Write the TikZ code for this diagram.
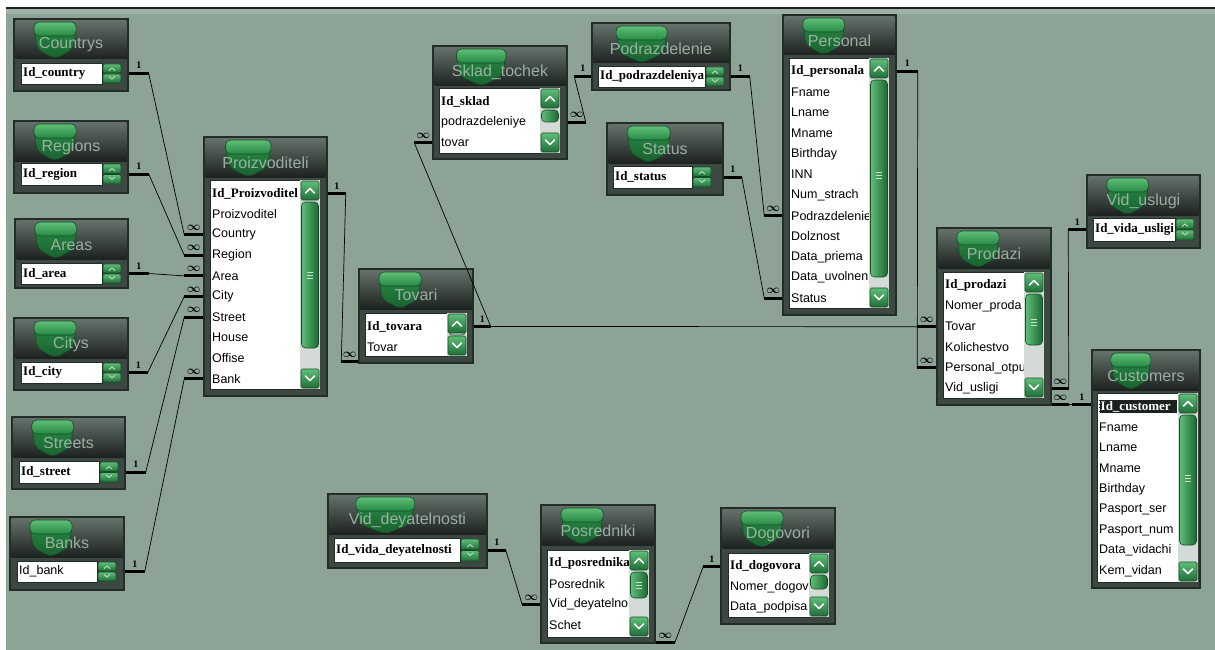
\documentclass[tikz,border=0pt]{standalone}
\usepackage{fontspec}
\setmainfont{Liberation Sans}
\newfontfamily\erserif{Liberation Serif}
\usepackage{tikz}
\usetikzlibrary{fit}
\definecolor{erback}{RGB}{140,163,150}
\definecolor{erframe}{RGB}{36,44,40}
\definecolor{erheadtop}{RGB}{100,112,106}
\definecolor{erdark}{RGB}{28,34,31}
\definecolor{erbody}{RGB}{62,72,67}
\definecolor{ergreen}{RGB}{38,138,68}
\definecolor{erlight}{RGB}{96,190,120}
\definecolor{erdeep}{RGB}{20,78,38}
\definecolor{ertext}{RGB}{166,186,174}
\definecolor{ertrack}{RGB}{212,218,214}
\tikzset{
  ertable/.style={draw=erframe,line width=1.5pt,fill=erbody,inner sep=0pt},
  erhead/.style={top color=erheadtop,bottom color=erdark},
  ertab/.style={top color=erlight,bottom color=ergreen,draw=erdeep,
                line width=.6pt,rounded corners=5pt},
  ershield/.style={top color=ergreen,bottom color=ergreen!70!black,
                   draw=erdeep,line width=.6pt,rounded corners=6pt},
  ertitle/.style={text=ertext,text opacity=.9,inner sep=0pt,
                  font=\fontsize{16}{17}\selectfont},
  erlist/.style={fill=white,draw=erframe,line width=.6pt},
  erfield/.style={anchor=west,inner sep=0pt,font=\fontsize{12.5}{13}\selectfont},
  erkey/.style={erfield,font=\erserif\bfseries\fontsize{13}{14}\selectfont},
  erselect/.style={erkey,text=white,fill=erdark,draw=white,densely dotted,
                   inner sep=1.5pt,text width=75pt},
  erbutton/.style={top color=erlight,bottom color=ergreen!80!black,draw=erdeep,
                   line width=.6pt,rounded corners=1.5pt},
  erthumb/.style={left color=erlight,right color=ergreen!75!black,draw=erdeep,
                  line width=.6pt,rounded corners=4pt},
  erchevron/.style={white,line width=1.6pt,line cap=round,line join=round},
  ergrip/.style={white!75!ergreen,line width=.8pt},
  erstub/.style={line width=3pt},
  erlink/.style={line width=.7pt},
  erone/.style={midway,above=3pt,inner sep=0pt,
                font=\erserif\bfseries\fontsize{10}{10}\selectfont},
  ermany/.style={midway,above=3pt,inner sep=0pt,
                 font=\fontsize{12}{12}\selectfont\boldmath}
}
% table frame, header and title: name, x1, y1, x2, y2, title
\newcommand{\ertablebox}[6]{%
  \node[ertable,fit={(#2,#3) (#4,#5)}] (#1) {};
  \fill[erhead] (#2+1.5,#3+1.5) rectangle (#4-1.5,#3+40);
  \path[ershield] ({#2+.175*(#4-#2)},#3+6) -- ({#2+.545*(#4-#2)},#3+6)
    -- ({#2+.52*(#4-#2)},#3+30) -- ({#2+.36*(#4-#2)},#3+40)
    -- ({#2+.2*(#4-#2)},#3+30) -- cycle;
  \path[ertab] ({#2+.175*(#4-#2)},#3+3) rectangle ({#2+.545*(#4-#2)},#3+17);
  \node[ertitle] (#1-title) at ({(#2+#4)/2},#3+26) {#6};
}
% full scroll bar: x, y1, y2, lower end of thumb
\newcommand{\erscroll}[4]{%
  \fill[ertrack] (#1,#2) rectangle (#1+20,#3);
  \path[erthumb] (#1+1.5,#2+22) rectangle (#1+18.5,#4);
  \path[erbutton] (#1+1,#2+1) rectangle (#1+19,#2+20);
  \draw[erchevron] (#1+5.5,#2+13) -- (#1+10,#2+8.5) -- (#1+14.5,#2+13);
  \path[erbutton] (#1+1,#3-20) rectangle (#1+19,#3-1);
  \draw[erchevron] (#1+5.5,#3-13) -- (#1+10,#3-8.5) -- (#1+14.5,#3-13);
}
\newcommand{\ergripper}[2]{% x, y
  \foreach \k in {-3,0,3}
    \draw[ergrip] (#1+7,#2+\k) -- (#1+13,#2+\k);
}
% two small buttons of a one-row list: x, y1, y2
\newcommand{\erspin}[3]{%
  \path[erbutton] (#1+1,#2+1) rectangle (#1+19,{(#2+#3)/2-.5});
  \path[erbutton] (#1+1,{(#2+#3)/2+.5}) rectangle (#1+19,#3-1);
  \draw[ergrip] (#1+7,{(#2+#3)/2-3}) -- (#1+10,{(#2+#3)/2-5.5}) -- (#1+13,{(#2+#3)/2-3});
  \draw[ergrip] (#1+7,{(#2+#3)/2+3}) -- (#1+10,{(#2+#3)/2+5.5}) -- (#1+13,{(#2+#3)/2+3});
}
% one-row list: name, x1, y1, x2, y2, style, field
\newcommand{\ersingle}[7]{%
  \fill[erlist] (#2,#3) rectangle (#4,#5);
  \begin{scope}
    \clip (#2,#3) rectangle (#4,#5);
    \node[#6] (#1-1) at (#2+2,{(#3+#5)/2}) {#7};
  \end{scope}
  \erspin{#4}{#3}{#5}
}
% field list: name, x1, y1, x2, y2, key style, key field, other fields
\newcommand{\erfields}[8]{%
  \fill[erlist] (#2,#3) rectangle (#4,#5);
  \begin{scope}
    \clip (#2,#3) rectangle (#4,#5);
    \node[#6] (#1-1) at (#2+2,#3+13.5) {#7};
    \foreach \f [count=\i from 2] in {#8}
      \node[erfield] (#1-\i) at (#2+2,{#3+13.5+20.6*(\i-1)}) {\f};
  \end{scope}
}
\begin{document}
\begin{tikzpicture}[x=1pt,y=-1pt]
  \useasboundingbox (0,0) rectangle (1215,650);
  \fill[white] (0,0) rectangle (1215,650);
  \fill[erback] (6,8) rectangle (1215,650);
  \fill[erback!85!white] (6,9) rectangle (1215,14);
  \draw[erdark,line width=1.5pt] (6,8) -- (1215,8);

  \ertablebox{countrys}{14}{19}{128}{91}{Countrys}
  \ersingle{countrys}{21}{63}{102}{84}{erkey}{Id\_country}
  \ertablebox{regions}{14}{121}{128}{193}{Regions}
  \ersingle{regions}{21}{163}{102}{185}{erkey}{Id\_region}
  \ertablebox{areas}{15}{219}{128}{288}{Areas}
  \ersingle{areas}{21}{263}{102}{284}{erkey}{Id\_area}
  \ertablebox{citys}{14}{318}{128}{390}{Citys}
  \ersingle{citys}{21}{362}{102}{383}{erkey}{Id\_city}
  \ertablebox{streets}{12}{417}{125}{489}{Streets}
  \ersingle{streets}{19}{461}{99}{483}{erkey}{Id\_street}
  \ertablebox{banks}{10}{517}{124}{590}{Banks}
  \ersingle{banks}{17}{561}{97}{582}{erfield}{Id\_bank}

  \ertablebox{proizv}{204}{137}{327}{396}{Proizvoditeli}
  \erfields{proizv}{210}{180}{300}{389}{erkey}{Id\_Proizvoditel}
    {Proizvoditel,Country,Region,Area,City,Street,House,Offise,Bank}
  \erscroll{300}{180}{389}{348}
  \ergripper{300}{275}

  \ertablebox{tovari}{359}{269}{473}{363}{Tovari}
  \erfields{tovari}{365}{313}{447}{356}{erkey}{Id\_tovara}{Tovar}
  \erscroll{447}{313}{356}{335}

  \ertablebox{sklad}{433}{46}{567}{159}{Sklad\_tochek}
  \erfields{sklad}{439}{88}{540}{153}{erkey}{Id\_sklad}{podrazdeleniye,tovar}
  \erscroll{540}{88}{153}{122}

  \ertablebox{podr}{592}{23}{730}{90}{Podrazdelenie}
  \ersingle{podr}{598}{66}{705}{87}{erkey}{Id\_podrazdeleniya}

  \ertablebox{status}{607}{123}{723}{195}{Status}
  \ersingle{status}{613}{166}{692}{188}{erkey}{Id\_status}

  \ertablebox{personal}{783}{15}{896}{315}{Personal}
  \erfields{personal}{789}{58}{869}{308}{erkey}{Id\_personala}
    {Fname,Lname,Mname,Birthday,INN,Num\_strach,Podrazdelenie,Dolznost,
     Data\_priema,Data\_uvolnen,Status}
  \erscroll{869}{58}{308}{277}
  \ergripper{869}{175}

  \ertablebox{prodazi}{937}{228}{1051}{405}{Prodazi}
  \erfields{prodazi}{943}{272}{1024}{398}{erkey}{Id\_prodazi}
    {Nomer\_proda,Tovar,Kolichestvo,Personal\_otpu,Vid\_usligi}
  \erscroll{1024}{272}{398}{345}
  \ergripper{1024}{322}

  \ertablebox{viduslugi}{1087}{175}{1200}{248}{Vid\_uslugi}
  \ersingle{viduslugi}{1093}{218}{1175}{241}{erkey}{Id\_vida\_usligi}

  \ertablebox{customers}{1092}{350}{1200}{588}{Customers}
  \erfields{customers}{1097}{393}{1178}{582}{erselect}{Id\_customer}
    {Fname,Lname,Mname,Birthday,Pasport\_ser,Pasport\_num,Data\_vidachi,Kem\_vidan}
  \erscroll{1178}{393}{582}{545}
  \ergripper{1178}{478}

  \ertablebox{viddey}{328}{494}{487}{568}{Vid\_deyatelnosti}
  \ersingle{viddey}{334}{538}{460}{562}{erkey}{Id\_vida\_deyatelnosti}

  \ertablebox{posred}{541}{505}{655}{643}{Posredniki}
  \erfields{posred}{547}{550}{629}{637}{erkey}{Id\_posrednika}
    {Posrednik,Vid\_deyatelno,Schet}
  \erscroll{629}{550}{637}{598}
  \ergripper{629}{585}

  \ertablebox{dogovori}{721}{508}{835}{624}{Dogovori}
  \erfields{dogovori}{728}{553}{809}{617}{erkey}{Id\_dogovora}
    {Nomer\_dogov,Data\_podpisa}
  \erscroll{809}{553}{617}{589}

  % one side
  \draw[erstub] (countrys.east |- countrys-1) -- ++(20,0) coordinate (cnt-id) node[erone] {1};
  \draw[erstub] (regions.east |- regions-1) -- ++(20,0) coordinate (reg-id) node[erone] {1};
  \draw[erstub] (areas.east |- areas-1) -- ++(20,0) coordinate (are-id) node[erone] {1};
  \draw[erstub] (citys.east |- citys-1) -- ++(19,0) coordinate (cit-id) node[erone] {1};
  \draw[erstub] (streets.east |- streets-1) -- ++(20,0) coordinate (str-id) node[erone] {1};
  \draw[erstub] (banks.east |- banks-1) -- ++(20,0) coordinate (ban-id) node[erone] {1};
  \draw[erstub] (proizv.east |- proizv-1) -- ++(18,0) coordinate (prz-id) node[erone] {1};
  \draw[erstub] (tovari.east |- tovari-1) -- ++(17,0) coordinate (tov-id) node[erone] {1};
  \draw[erstub] (podr.west |- podr-1) -- ++(-17,0) coordinate (pod-l) node[erone] {1};
  \draw[erstub] (podr.east |- podr-1) -- ++(19,0) coordinate (pod-r) node[erone] {1};
  \draw[erstub] (status.east |- status-1) -- ++(18,0) coordinate (sta-id) node[erone] {1};
  \draw[erstub] (personal.east |- personal-1) -- ++(21,0) coordinate (per-id) node[erone] {1};
  \draw[erstub] (viduslugi.west |- viduslugi-1) -- ++(-18,0) coordinate (vus-id) node[erone] {1};
  \draw[erstub] (viddey.east |- viddey-1) -- ++(18,0) coordinate (vdy-id) node[erone] {1};
  \draw[erstub] (dogovori.west |- dogovori-1) -- ++(-17,0) coordinate (dog-id) node[erone] {1};

  % many side
  \draw[erstub] (proizv.west |- proizv-3) -- ++(-19,0) coordinate (prz-cnt) node[ermany] {$\infty$};
  \draw[erstub] (proizv.west |- proizv-4) -- ++(-19,0) coordinate (prz-reg) node[ermany] {$\infty$};
  \draw[erstub] (proizv.west |- proizv-5) -- ++(-19,0) coordinate (prz-are) node[ermany] {$\infty$};
  \draw[erstub] (proizv.west |- proizv-6) -- ++(-19,0) coordinate (prz-cit) node[ermany] {$\infty$};
  \draw[erstub] (proizv.west |- proizv-7) -- ++(-19,0) coordinate (prz-str) node[ermany] {$\infty$};
  \draw[erstub] (proizv.west |- proizv-10) -- ++(-19,0) coordinate (prz-ban) node[ermany] {$\infty$};
  \draw[erstub] ([yshift=2pt]tovari.south west) -- ++(-17,0) coordinate (tov-prz) node[ermany] {$\infty$};
  \draw[erstub] (sklad.west |- sklad-3) -- ++(-18,0) coordinate (skl-tov) node[ermany] {$\infty$};
  \draw[erstub] (sklad.east |- sklad-2) -- ++(18,0) coordinate (skl-pod) node[ermany] {$\infty$};
  \draw[erstub] (prodazi.west |- prodazi-3) -- ++(-19,0) coordinate (prd-tov) node[ermany] {$\infty$};
  \draw[erstub] (personal.west |- personal-8) -- ++(-18,0) coordinate (per-pod) node[ermany] {$\infty$};
  \draw[erstub] (personal.west |- personal-12) -- ++(-18,0) coordinate (per-sta) node[ermany] {$\infty$};
  \draw[erstub] (prodazi.west |- prodazi-5) -- ++(-19,0) coordinate (prd-per) node[ermany] {$\infty$};
  \draw[erstub] (prodazi.east |- prodazi-6) -- ++(17,0) coordinate (prd-vus) node[ermany] {$\infty$};
  \draw[erstub] ([yshift=1pt]prodazi.south east) -- ++(17,0) coordinate (prd-cus) node[ermany] {$\infty$};
  \draw[erstub] (customers.west |- prd-cus) -- ++(-19,0) coordinate (cus-id) node[erone] {1};
  \draw[erstub] (posred.west |- posred-3) -- ++(-18,0) coordinate (pos-vdy) node[ermany] {$\infty$};
  \draw[erstub] ([yshift=1pt]posred.south east) -- ++(19,0) coordinate (pos-dog) node[ermany] {$\infty$};

  % relations
  \draw[erlink] (cnt-id) -- (prz-cnt);
  \draw[erlink] (reg-id) -- (prz-reg);
  \draw[erlink] (are-id) -- (prz-are);
  \draw[erlink] (cit-id) -- (prz-cit);
  \draw[erlink] (str-id) -- (prz-str);
  \draw[erlink] (ban-id) -- (prz-ban);
  \draw[erlink] (prz-id) -- (tov-prz);
  \draw[erlink] (tov-id) -- (skl-tov);
  \draw[erlink] (tov-id) -- (prd-tov);
  \draw[erlink] (pod-l) -- (skl-pod);
  \draw[erlink] (pod-r) -- (per-pod);
  \draw[erlink] (sta-id) -- (per-sta);
  \draw[erlink] (per-id) -- (prd-per);
  \draw[erlink] (vus-id) -- (prd-vus);
  \draw[erlink] (prd-cus) -- (cus-id);
  \draw[erlink] (vdy-id) -- (pos-vdy);
  \draw[erlink] (dog-id) -- (pos-dog);
\end{tikzpicture}
\end{document}
